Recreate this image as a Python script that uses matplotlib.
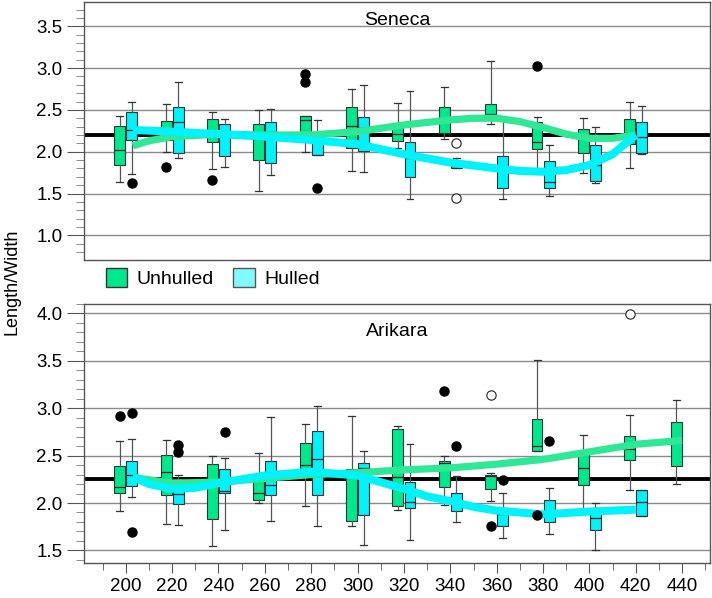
import numpy as np
import matplotlib
matplotlib.use("Agg")
import matplotlib.pyplot as plt
from matplotlib.patches import Patch

plt.rcParams['font.family'] = ['Liberation Sans', 'DejaVu Sans']

# ---- data ----
# box stats per group: (whisker low, q1, median, q3, whisker high)
sen_x = [200, 220, 240, 260, 280, 300, 320, 340, 360, 380, 400, 420]
sen_unh = [(1.64, 1.84, 2.02, 2.31, 2.43), (2.00, 2.14, 2.26, 2.37, 2.57),
           (1.79, 2.11, 2.22, 2.39, 2.47), (1.53, 1.90, 2.15, 2.33, 2.50),
           (2.00, 2.22, 2.38, 2.43, 2.43), (1.77, 2.04, 2.31, 2.53, 2.75),
           (2.04, 2.13, 2.21, 2.32, 2.58), (2.15, 2.22, 2.38, 2.54, 2.77),
           (2.33, 2.40, 2.45, 2.57, 3.09), (1.78, 2.03, 2.11, 2.35, 2.41),
           (1.75, 1.99, 2.15, 2.27, 2.40), (1.81, 2.09, 2.22, 2.39, 2.59)]
sen_unh_out = [[], [1.82], [1.66], [], [2.93, 2.83], [], [], [], [], [3.02], [], []]
sen_unh_ext = [[], [], [], [], [], [], [], [], [], [], [], []]
sen_hul = [(1.73, 2.14, 2.26, 2.48, 2.59), (1.92, 1.98, 2.35, 2.54, 2.83),
           (1.82, 1.95, 2.20, 2.33, 2.39), (1.72, 1.86, 2.24, 2.35, 2.51),
           (1.96, 1.96, 2.12, 2.21, 2.38), (1.76, 2.01, 2.28, 2.41, 2.80),
           (1.43, 1.70, 1.92, 2.12, 2.72), (1.80, 1.81, 1.83, 1.85, 1.93),
           (1.44, 1.57, 1.78, 1.95, 2.39), (1.47, 1.56, 1.64, 1.89, 2.08),
           (1.62, 1.65, 1.84, 2.08, 2.30), (1.97, 1.98, 2.17, 2.35, 2.55)]
sen_hul_out = [[1.62], [], [], [], [1.56], [], [], [], [], [], [], []]
sen_hul_ext = [[], [], [], [], [], [], [], [2.10, 1.45], [], [], [], []]
sen_ref = 2.2
# smoothed trend lines
sen_unh_fit_x = [203, 210, 220, 240, 260, 280, 300, 320, 340, 350, 360, 370, 380, 390, 400, 410, 420]
sen_unh_fit_y = [2.07, 2.13, 2.18, 2.21, 2.20, 2.20, 2.24, 2.32, 2.38, 2.40, 2.40, 2.36, 2.29, 2.21, 2.16, 2.16, 2.20]
sen_hul_fit_x = [203, 220, 240, 260, 280, 300, 320, 340, 360, 370, 380, 390, 400, 410, 420]
sen_hul_fit_y = [2.26, 2.24, 2.21, 2.18, 2.14, 2.09, 1.97, 1.87, 1.80, 1.77, 1.76, 1.78, 1.84, 1.97, 2.20]

ari_unh_x = [200, 220, 240, 260, 280, 300, 320, 340, 360, 380, 400, 420, 440]
ari_unh = [(1.92, 2.11, 2.17, 2.39, 2.65), (1.78, 2.08, 2.33, 2.51, 2.67),
           (1.55, 1.83, 2.20, 2.41, 2.50), (2.00, 2.03, 2.11, 2.28, 2.53),
           (1.97, 2.30, 2.40, 2.63, 2.83), (1.76, 1.81, 2.30, 2.36, 2.92),
           (1.93, 1.97, 2.27, 2.78, 2.81), (1.98, 2.17, 2.42, 2.44, 2.50),
           (2.02, 2.15, 2.28, 2.30, 2.32), (2.55, 2.55, 2.60, 2.89, 3.51),
           (1.94, 2.19, 2.37, 2.52, 2.72), (2.14, 2.45, 2.57, 2.71, 2.93),
           (2.20, 2.39, 2.65, 2.86, 3.09)]
ari_unh_out = [[2.92], [], [], [], [], [], [], [3.18], [1.76], [1.87], [], [], []]
ari_unh_ext = [[], [], [], [], [], [], [], [], [3.14], [], [], [3.99], []]
ari_hul_x = [200, 220, 240, 260, 280, 300, 320, 340, 360, 380, 400, 420]
ari_hul = [(2.06, 2.18, 2.30, 2.44, 2.68), (1.77, 1.99, 2.10, 2.25, 2.30),
           (1.72, 2.11, 2.13, 2.36, 2.47), (1.81, 2.08, 2.19, 2.44, 2.91),
           (1.76, 2.08, 2.46, 2.76, 3.02), (1.56, 1.87, 2.37, 2.42, 2.55),
           (1.61, 1.95, 2.01, 2.22, 2.62), (1.80, 1.92, 2.00, 2.11, 2.28),
           (1.63, 1.76, 1.88, 1.95, 2.11), (1.67, 1.80, 1.90, 2.03, 2.16),
           (1.50, 1.72, 1.84, 1.95, 2.00), (1.86, 1.86, 2.01, 2.14, 2.14)]
ari_hul_out = [[2.95, 1.69], [2.61, 2.54], [2.75], [], [], [], [], [2.60], [2.24], [2.65], [], []]
ari_hul_ext = [[], [], [], [], [], [], [], [], [], [], [], []]
ari_ref = 2.25
ari_unh_fit_x = [203, 220, 240, 260, 280, 300, 320, 340, 360, 380, 400, 420, 440]
ari_unh_fit_y = [2.27, 2.21, 2.22, 2.26, 2.30, 2.32, 2.35, 2.37, 2.41, 2.46, 2.54, 2.62, 2.66]
ari_hul_fit_x = [203, 210, 220, 230, 240, 260, 280, 300, 310, 320, 330, 340, 350, 360, 380, 400, 420]
ari_hul_fit_y = [2.28, 2.20, 2.15, 2.16, 2.21, 2.29, 2.33, 2.29, 2.22, 2.15, 2.07, 2.02, 1.96, 1.92, 1.88, 1.91, 1.93]

GREEN = '#00e88c'
GREEN_LINE = '#2ee896'
CYAN = '#00f2fa'
OFF = 2.6
W = 4.7


def stats(rows, outs):
    res = []
    for (lo, q1, med, q3, hi), fl in zip(rows, outs):
        res.append(dict(whislo=lo, q1=q1, med=med, q3=q3, whishi=hi, fliers=fl))
    return res


def boxes(ax, xs, rows, outs, exts, color, off):
    pos = np.array(xs) + off
    ax.bxp(stats(rows, outs), positions=pos, widths=W, patch_artist=True,
           manage_ticks=False, capwidths=3.0,
           boxprops=dict(facecolor=color, edgecolor='#333333', linewidth=0.8),
           medianprops=dict(color='#222222', linewidth=0.9),
           whiskerprops=dict(color='#555555', linewidth=0.9),
           capprops=dict(color='#333333', linewidth=0.9),
           flierprops=dict(marker='o', markerfacecolor='black', markeredgecolor='black',
                           markersize=6.5, zorder=6),
           zorder=3)
    for p, e in zip(pos, exts):
        if e:
            ax.scatter([p] * len(e), e, s=45, facecolors='white', edgecolors='#222222',
                       linewidths=0.8, zorder=6)


def style(ax, lo, hi):
    ax.set_xlim(182, 452)
    ax.set_ylim(lo, hi)
    ax.yaxis.set_major_locator(plt.MultipleLocator(0.5))
    ax.yaxis.set_minor_locator(plt.MultipleLocator(0.1))
    ax.yaxis.set_major_formatter(plt.FormatStrFormatter('%.1f'))
    ax.grid(axis='y', which='major', color='#8a8a8a', linewidth=1.0, zorder=0)
    ax.set_axisbelow(True)
    for s in ax.spines.values():
        s.set_color('#555555')
        s.set_linewidth(1.0)
    ax.tick_params(axis='y', which='major', length=12, color='#555555', labelsize=13.5)
    ax.tick_params(axis='y', which='minor', length=6, color='#777777')


def trend(ax, xs, ys, color, lw, z):
    ax.plot(xs, ys, color=color, linewidth=lw, solid_capstyle='butt',
            solid_joinstyle='round', zorder=z)


fig = plt.figure(figsize=(7.12, 5.98), dpi=100)
ax1 = fig.add_axes([84 / 712, 338 / 598, 626 / 712, 258 / 598])
ax2 = fig.add_axes([84 / 712, 35 / 598, 626 / 712, 259 / 598])

# Seneca
style(ax1, 0.705, 3.79)
ax1.axhline(sen_ref, color='black', linewidth=2.8, zorder=2)
boxes(ax1, sen_x, sen_unh, sen_unh_out, sen_unh_ext, GREEN, -OFF)
boxes(ax1, sen_x, sen_hul, sen_hul_out, sen_hul_ext, CYAN, OFF)
trend(ax1, sen_unh_fit_x, sen_unh_fit_y, GREEN_LINE, 5.2, 4)
trend(ax1, sen_hul_fit_x, sen_hul_fit_y, CYAN, 5.8, 5)
ax1.tick_params(axis='x', which='both', bottom=False, labelbottom=False)
ax1.text(0.5, 0.96, 'Seneca', transform=ax1.transAxes, ha='center', va='top', fontsize=14)

# Arikara
style(ax2, 1.367, 4.10)
ax2.axhline(ari_ref, color='black', linewidth=2.8, zorder=2)
boxes(ax2, ari_unh_x, ari_unh, ari_unh_out, ari_unh_ext, GREEN, -OFF)
boxes(ax2, ari_hul_x, ari_hul, ari_hul_out, ari_hul_ext, CYAN, OFF)
trend(ax2, ari_unh_fit_x, ari_unh_fit_y, GREEN_LINE, 5.2, 4)
trend(ax2, ari_hul_fit_x, ari_hul_fit_y, CYAN, 5.8, 5)
ax2.xaxis.set_major_locator(plt.MultipleLocator(20))
ax2.xaxis.set_minor_locator(plt.MultipleLocator(10))
ax2.tick_params(axis='x', which='major', length=7, color='#555555', labelsize=13.5)
ax2.tick_params(axis='x', which='minor', length=5, color='#555555')
ax2.text(0.5, 0.925, 'Arikara', transform=ax2.transAxes, ha='center', va='top', fontsize=14)

fig.text(12 / 712, 1 - 282 / 598, 'Length/Width', rotation=90, ha='center', va='center', fontsize=13)

handles = [Patch(facecolor=GREEN, edgecolor='#333333', label='Unhulled'),
           Patch(facecolor='#80fafa', edgecolor='#555555', label='Hulled')]
fig.legend(handles=handles, loc='center left', bbox_to_anchor=(88 / 712, 1 - 278 / 598),
           ncol=2, frameon=False, fontsize=14, handlelength=1.1, handleheight=1.1,
           handletextpad=0.5, columnspacing=1.0)

fig.savefig('out.png', dpi=100)
